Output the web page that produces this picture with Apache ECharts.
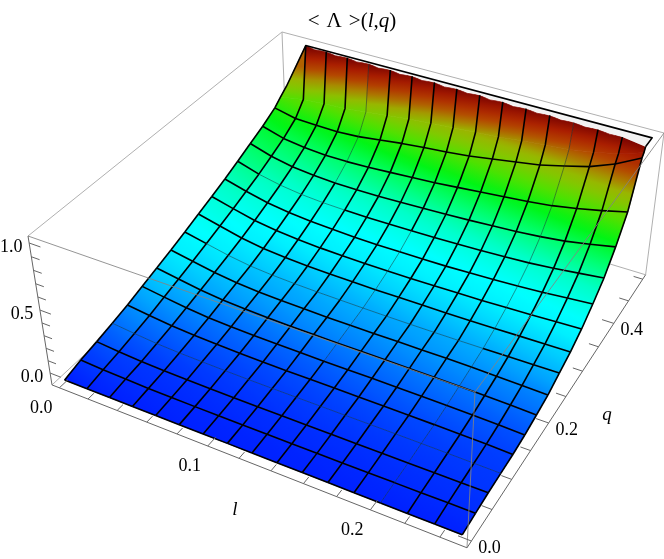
<!DOCTYPE html>
<html lang="en" style="height: 100%">
<head>
  <meta charset="UTF-8" />
  <title>Lambda surface</title>
  <script src="https://cdn.jsdelivr.net/npm/echarts@6/dist/echarts.min.js"></script>
  <style>
    html, body { height: 100%; margin: 0; background-color: #fff; }
    #chart { width: 664px; height: 559px; }
  </style>
</head>
<body>
  <div id="chart"></div>

  <script>
    // mesh lines of the surface
    const lValues = [0, 0.015625, 0.03125, 0.046875, 0.0625, 0.078125, 0.09375, 0.109375, 0.125, 0.140625, 0.15625, 0.171875, 0.1875, 0.203125, 0.21875, 0.234375, 0.25];
    const qValues = [0, 0.03125, 0.0625, 0.09375, 0.125, 0.15625, 0.1875, 0.21875, 0.25, 0.28125, 0.3125, 0.34375, 0.375, 0.40625, 0.4375, 0.46875];

    // <Lambda>, one row per q line, one column per l line
    const lambdaRows = [
      [-0.077, -0.077, -0.077, -0.077, -0.077, -0.077, -0.077, -0.077, -0.077, -0.077, -0.077, -0.077, -0.077, -0.077, -0.077, -0.077, -0.077],
      [-0.041, -0.052, -0.057, -0.063, -0.065, -0.067, -0.068, -0.068, -0.068, -0.068, -0.068, -0.067, -0.067, -0.065, -0.064, -0.063, -0.063],
      [-0.015, -0.031, -0.043, -0.049, -0.052, -0.054, -0.055, -0.056, -0.056, -0.056, -0.056, -0.056, -0.055, -0.055, -0.054, -0.053, -0.052],
      [0.015, -0.004, -0.02, -0.029, -0.033, -0.037, -0.039, -0.04, -0.04, -0.04, -0.04, -0.04, -0.04, -0.041, -0.042, -0.044, -0.046],
      [0.046, 0.024, 0.005, -0.008, -0.015, -0.021, -0.023, -0.025, -0.026, -0.026, -0.026, -0.026, -0.028, -0.029, -0.031, -0.034, -0.04],
      [0.084, 0.058, 0.034, 0.016, 0.006, 0.001, -0.002, -0.003, -0.006, -0.006, -0.006, -0.007, -0.008, -0.01, -0.014, -0.018, -0.025],
      [0.123, 0.093, 0.064, 0.044, 0.033, 0.026, 0.022, 0.02, 0.017, 0.017, 0.017, 0.016, 0.015, 0.013, 0.009, 0.005, -0.002],
      [0.161, 0.128, 0.096, 0.072, 0.058, 0.051, 0.046, 0.042, 0.04, 0.04, 0.04, 0.04, 0.04, 0.038, 0.034, 0.03, 0.024],
      [0.203, 0.165, 0.127, 0.099, 0.084, 0.075, 0.069, 0.066, 0.063, 0.061, 0.06, 0.06, 0.061, 0.063, 0.066, 0.069, 0.071],
      [0.247, 0.205, 0.163, 0.134, 0.119, 0.109, 0.103, 0.1, 0.098, 0.098, 0.098, 0.098, 0.1, 0.103, 0.107, 0.11, 0.114],
      [0.291, 0.245, 0.203, 0.176, 0.16, 0.149, 0.144, 0.14, 0.138, 0.138, 0.14, 0.144, 0.147, 0.153, 0.16, 0.168, 0.176],
      [0.336, 0.288, 0.248, 0.222, 0.206, 0.196, 0.189, 0.186, 0.186, 0.187, 0.189, 0.195, 0.203, 0.212, 0.224, 0.241, 0.257],
      [0.387, 0.332, 0.295, 0.271, 0.258, 0.252, 0.25, 0.25, 0.253, 0.256, 0.261, 0.267, 0.276, 0.287, 0.304, 0.327, 0.35],
      [0.44, 0.385, 0.35, 0.331, 0.321, 0.319, 0.321, 0.327, 0.333, 0.341, 0.35, 0.362, 0.373, 0.39, 0.413, 0.448, 0.486],
      [0.491, 0.44, 0.416, 0.403, 0.402, 0.408, 0.419, 0.431, 0.442, 0.459, 0.477, 0.494, 0.511, 0.534, 0.568, 0.608, 0.654],
      [0.555, 0.515, 0.508, 0.505, 0.515, 0.538, 0.562, 0.581, 0.596, 0.616, 0.645, 0.674, 0.703, 0.749, 0.797, 0.871, 0.97]
    ];

    // where each l line bends up towards the ceiling
    const kneeQ = [0.484, 0.49, 0.49, 0.49, 0.489, 0.488, 0.4875, 0.487, 0.486, 0.485, 0.484, 0.483, 0.482, 0.48, 0.479, 0.477, 0.474];
    const kneeLambda = [0.603, 0.614, 0.626, 0.637, 0.66, 0.683, 0.706, 0.724, 0.741, 0.758, 0.775, 0.798, 0.821, 0.844, 0.878, 0.924, 0.993];

    // q at which the surface meets the clipped top, every half mesh cell from l line 1 on
    const ceilingQ = [0.5, 0.4958, 0.4984, 0.4948, 0.4974, 0.4938, 0.4969, 0.4927, 0.4958, 0.4917, 0.4948, 0.4911, 0.4943, 0.4901, 0.4932, 0.4896, 0.4927, 0.4885, 0.4917, 0.4875, 0.4906, 0.487, 0.4896, 0.4859, 0.4885, 0.4849, 0.487, 0.4839, 0.4849, 0.4818, 0.4776];
    const ceilingLambda = 1.0274;
    const backQ = 0.5;
    const backLeftLambda = 0.65;

    // tick lists
    const lTicks = [0, 0.02, 0.04, 0.06, 0.08, 0.1, 0.12, 0.14, 0.16, 0.18, 0.2, 0.22, 0.24];
    const qTicks = [0, 0.05, 0.1, 0.15, 0.2, 0.25, 0.3, 0.35, 0.4, 0.45, 0.5];
    const zTicks = [0, 0.1, 0.2, 0.3, 0.4, 0.5, 0.6, 0.7, 0.8, 0.9, 1];
    const lLabels = [0, 0.1, 0.2];
    const qLabels = [0, 0.2, 0.4];
    const zLabels = [0, 0.5, 1];

    // plot box ranges
    const lBox = [-0.0052, 0.2552];
    const qBox = [-0.0104, 0.5104];
    const zBox = [-0.0976, 1.0504];

    // colour against height
    const colorRamp = [
      [-0.08, [0, 30, 255]], [-0.04, [0, 60, 255]], [0, [0, 105, 255]], [0.05, [0, 160, 255]],
      [0.1, [0, 205, 255]], [0.15, [0, 240, 255]], [0.2, [0, 255, 255]], [0.3, [0, 255, 200]],
      [0.4, [0, 255, 110]], [0.5, [0, 245, 20]], [0.6, [80, 225, 0]], [0.68, [130, 200, 0]],
      [0.75, [155, 180, 0]], [0.8, [170, 130, 0]], [0.87, [180, 70, 0]], [0.95, [170, 30, 0]], [1.03, [125, 5, 0]]
    ];

    // camera fitted to the box corners
    function project(l, q, z) {
      const u = (l - lBox[0]) / (lBox[1] - lBox[0]);
      const v = (q - qBox[0]) / (qBox[1] - qBox[0]);
      const w = (z - zBox[0]) / (zBox[1] - zBox[0]);
      const h = -0.12239 * u + 0.23071 * v + 1.0748 - 0.0748 * w;
      return [
        (388.87 * u + 319.06 * v + 55.9 - 27.9 * w) / h,
        (108.02 * u - 196.62 * v + 413.7 - 177.7 * w) / h
      ];
    }

    function colorAt(val) {
      let k = 0;
      while (k < colorRamp.length - 2 && val > colorRamp[k + 1][0]) k++;
      const a = colorRamp[k], b = colorRamp[k + 1];
      const t = Math.max(0, Math.min(1, (val - a[0]) / (b[0] - a[0])));
      const c = a[1].map((n, m) => Math.round(n + (b[1][m] - n) * t));
      return 'rgb(' + c.join(',') + ')';
    }

    const n = lValues.length - 1;
    const ceilPoint = i => [lValues[i], ceilingQ[2 * i - 2], ceilingLambda];
    const ceilMid = i => [(lValues[i] + lValues[i + 1]) / 2, ceilingQ[2 * i - 1], ceilingLambda];
    const kneePoint = i => [lValues[i], kneeQ[i], kneeLambda[i]];
    const rowPoint = (i, j) => [lValues[i], qValues[j], lambdaRows[j][i]];

    // surface patches: corners in 3D, low side first
    const patches = [];
    for (let j = 0; j < qValues.length - 1; j++) {
      for (let i = 0; i < n; i++) {
        patches.push({ low: [rowPoint(i, j), rowPoint(i + 1, j)], high: [rowPoint(i + 1, j + 1), rowPoint(i, j + 1)] });
      }
    }
    for (let i = 0; i < n; i++) {
      patches.push({ low: [rowPoint(i, 15), rowPoint(i + 1, 15)], high: [kneePoint(i + 1), kneePoint(i)] });
      const top = i === 0
        ? [ceilPoint(1), [0, backQ, backLeftLambda]]
        : [ceilPoint(i + 1), ceilMid(i), ceilPoint(i)];
      patches.push({ low: [kneePoint(i), kneePoint(i + 1)], high: top });
    }

    // flat clipped strip at the back
    const strip = [];
    for (let i = 1; i <= n; i++) strip.push(ceilPoint(i));
    for (let i = n; i >= 1; i--) strip.push([lValues[i], backQ, ceilingLambda]);

    // mesh line pieces, some come out thin in the reference
    const meshLines = [];
    const isThinL = (i, j) => (i === 13) || (i === 4 && j >= 13) || (i === 8 && j >= 5 && j <= 11);
    const isThinQ = (i, j) => (j === 3) || (j === 8 && i >= 1 && i <= 12) || (j === 12 && i >= 1 && i <= 4);
    for (let i = 0; i <= n; i++) {
      for (let j = 0; j < 15; j++) {
        meshLines.push({ pts: [rowPoint(i, j), rowPoint(i, j + 1)], thin: isThinL(i, j) });
      }
      const tail = [rowPoint(i, 15), kneePoint(i)];
      tail.push(i === 0 ? [0, backQ, backLeftLambda] : ceilPoint(i));
      meshLines.push({ pts: tail, thin: isThinL(i, 15) });
    }
    for (let j = 0; j < 16; j++) {
      for (let i = 0; i < n; i++) {
        meshLines.push({ pts: [rowPoint(i, j), rowPoint(i + 1, j)], thin: isThinQ(i, j) });
      }
    }
    meshLines.push({ pts: [[0, backQ, backLeftLambda], [lValues[1], backQ, ceilingLambda], [lValues[n], backQ, ceilingLambda], ceilPoint(n)], thin: false });

    // box edges
    const [l0, l1] = lBox, [q0, q1] = qBox, [z0, z1] = zBox;
    const backEdges = [
      [[l0, q0, z1], [l0, q1, z1]], [[l0, q1, z1], [l1, q1, z1]], [[l0, q1, z1], [l0, q1, z0]],
      [[l0, q0, z0], [l0, q1, z0]], [[l0, q1, z0], [l1, q1, z0]], [[l1, q1, z1], [l1, q1, z0]]
    ];
    const frontEdges = [
      [[l0, q0, z1], [l1, q0, z1]], [[l1, q0, z1], [l1, q1, z1]], [[l1, q0, z1], [l1, q0, z0]]
    ];
    const axisEdges = [
      [[l0, q0, z0], [l1, q0, z0]], [[l1, q0, z0], [l1, q1, z0]], [[l0, q0, z0], [l0, q0, z1]]
    ];

    // ticks along the three axes
    const ticks = [];
    lTicks.forEach(t => {
      const big = lLabels.includes(t);
      ticks.push([[t, q0, z0], [t, q0 + (big ? 0.016 : 0.011), z0]]);
    });
    qTicks.forEach(t => {
      const big = qLabels.includes(t);
      ticks.push([[l1, t, z0], [l1 - (big ? 0.0075 : 0.006), t, z0]]);
    });
    zTicks.forEach(t => {
      const big = zLabels.includes(t);
      ticks.push([[l0, q0, t], [l0 + (big ? 0.0075 : 0.0055), q0, t]]);
    });

    const axisTexts = [];
    lLabels.forEach(t => axisTexts.push({ at: [t, q0, z0], dx: -18, dy: 20, text: t.toFixed(1) }));
    qLabels.forEach(t => axisTexts.push({ at: [l1, t, z0], dx: 18, dy: 7, text: t.toFixed(1) }));
    zLabels.forEach(t => axisTexts.push({ at: [l0, q0, t], dx: -18, dy: 4, text: t.toFixed(1) }));
    axisTexts.push({ at: [0.125, q0, z0], dx: -12, dy: 49, text: 'l', italic: true });
    axisTexts.push({ at: [l1, 0.25, z0], dx: 41, dy: 18, text: 'q', italic: true });

    const chart = echarts.init(document.getElementById('chart'), null, { renderer: 'canvas' });

    const toPixels = (api, pts) => pts.map(p => api.coord(project(p[0], p[1], p[2])));
    const mid = (a, b) => [(a[0] + b[0]) / 2, (a[1] + b[1]) / 2];

    function polySeries(items, z, build) {
      return {
        type: 'custom',
        coordinateSystem: 'cartesian2d',
        silent: true,
        z: z,
        clip: false,
        data: items.map((_, idx) => [idx, idx]),
        renderItem: (params, api) => build(items[params.dataIndex], api)
      };
    }

    function linePiece(api, pts, color, width) {
      return {
        type: 'polyline',
        shape: { points: toPixels(api, pts) },
        style: { stroke: color, lineWidth: width, fill: null, lineJoin: 'round' }
      };
    }

    function patchItem(p, api) {
      const low = toPixels(api, p.low);
      const high = toPixels(api, p.high);
      const a = mid(low[0], low[1]);
      const b = mid(high[0], high[high.length - 1]);
      const z0 = (p.low[0][2] + p.low[1][2]) / 2;
      const z1 = (p.high[0][2] + p.high[p.high.length - 1][2]) / 2;
      const stops = [0, 0.2, 0.4, 0.6, 0.8, 1].map(t => ({ offset: t, color: colorAt(z0 + (z1 - z0) * t) }));
      const fill = new echarts.graphic.LinearGradient(a[0], a[1], b[0], b[1], stops, true);
      return {
        type: 'polygon',
        shape: { points: low.concat(high) },
        style: { fill: fill, stroke: fill, lineWidth: 0.7 }
      };
    }

    chart.setOption({
      backgroundColor: '#fff',
      animation: false,
      title: {
        text: '{r|<\u2004\u039B\u2004>(}{i|l}{r|,}{i|q}{r|)}',
        left: 347,
        top: 6,
        textAlign: 'center',
        textStyle: {
          fontWeight: 'normal',
          rich: {
            r: { fontFamily: 'Liberation Serif', fontWeight: 'normal', fontSize: 21, color: '#000' },
            i: { fontFamily: 'Liberation Serif', fontWeight: 'normal', fontStyle: 'italic', fontSize: 21, color: '#000' }
          }
        }
      },
      grid: { left: 0, right: 0, top: 0, bottom: 0 },
      xAxis: { type: 'value', min: 0, max: 664, show: false },
      yAxis: { type: 'value', min: 0, max: 559, inverse: true, show: false },
      series: [
        polySeries(backEdges, 1, (e, api) => linePiece(api, e, '#b0b0b0', 1)),
        polySeries(patches, 2, patchItem),
        polySeries([strip], 3, (s, api) => ({
          type: 'polygon',
          shape: { points: toPixels(api, s) },
          style: { fill: '#f2f2f2' }
        })),
        polySeries(meshLines, 4, (m, api) => linePiece(api, m.pts, m.thin ? 'rgba(20,50,50,0.65)' : '#000', m.thin ? 0.8 : 1.6)),
        polySeries(frontEdges, 5, (e, api) => linePiece(api, e, 'rgba(130,130,130,0.85)', 1)),
        polySeries(axisEdges, 6, (e, api) => linePiece(api, e, '#666', 1)),
        polySeries(ticks, 6, (e, api) => linePiece(api, e, '#666', 1)),
        polySeries(axisTexts, 7, (t, api) => {
          const p = api.coord(project(t.at[0], t.at[1], t.at[2]));
          return {
            type: 'text',
            style: {
              text: t.text,
              x: p[0] + t.dx,
              y: p[1] + t.dy,
              align: 'center',
              verticalAlign: 'middle',
              fill: '#000',
              font: (t.italic ? 'italic 19px' : '18px') + ' "Liberation Serif"'
            }
          };
        })
      ]
    });
  </script>
</body>
</html>
